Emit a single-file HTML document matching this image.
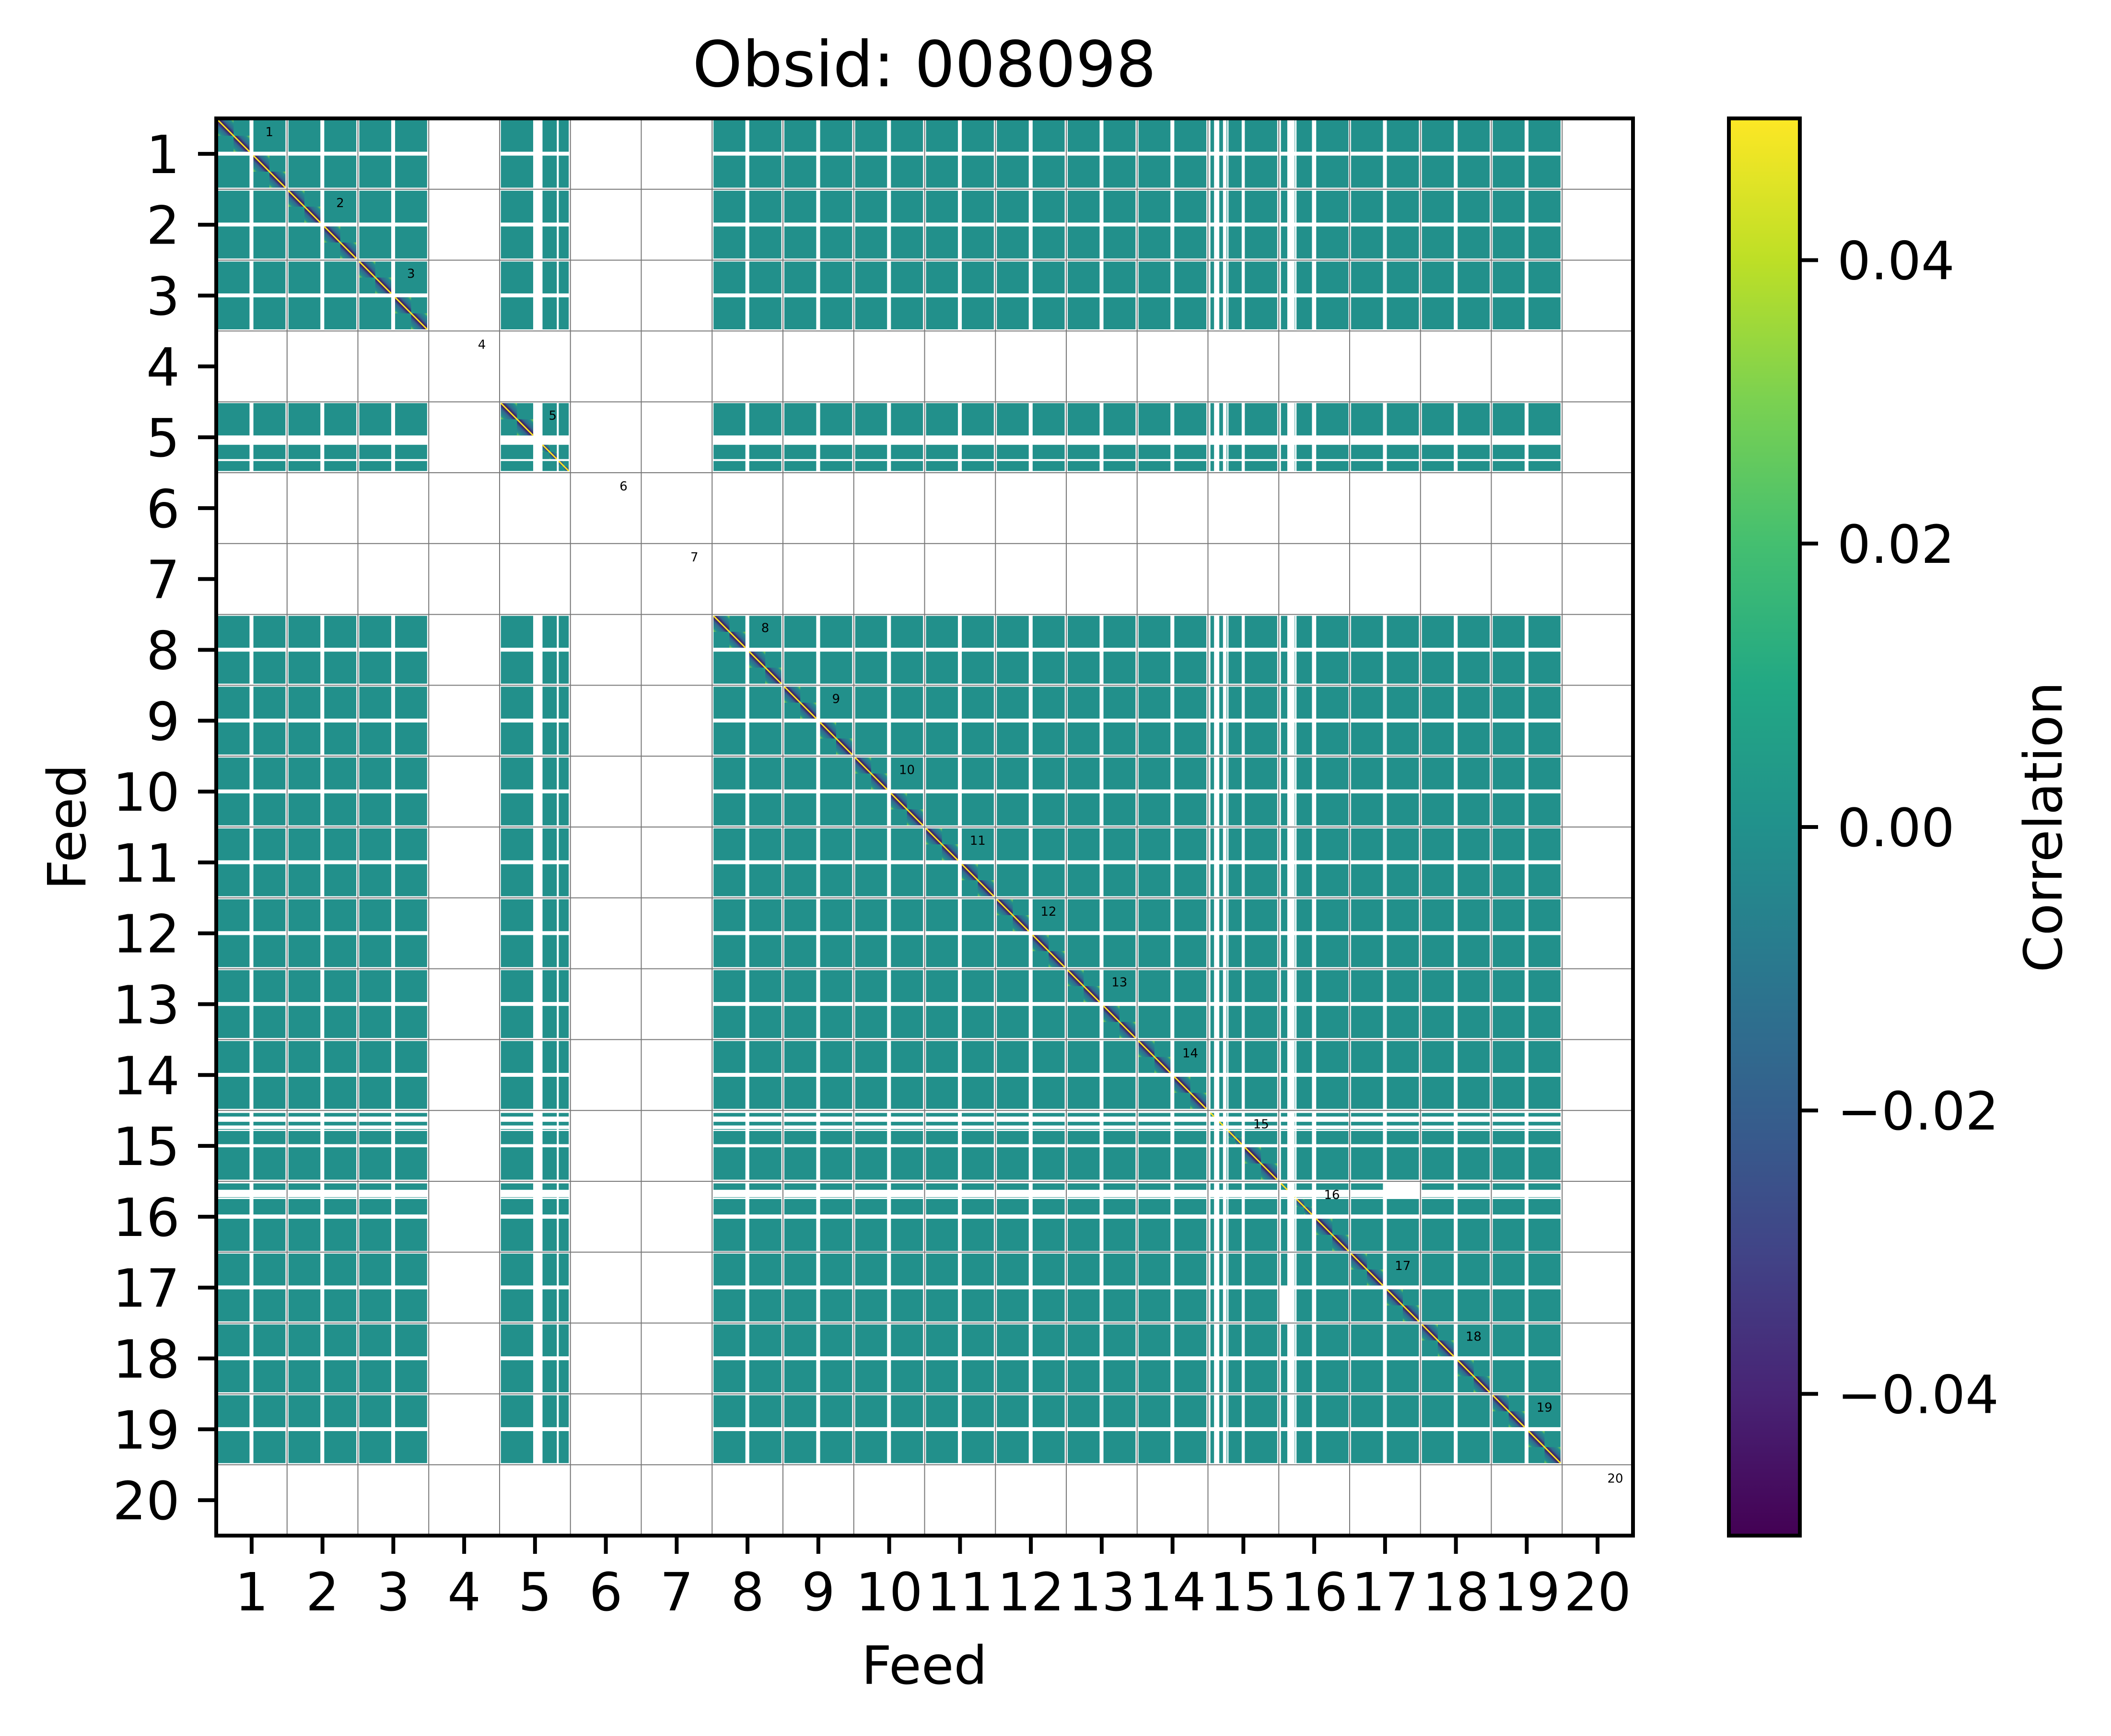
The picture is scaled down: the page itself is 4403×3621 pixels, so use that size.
<!DOCTYPE html>
<html><head><meta charset="utf-8"><style>
html,body{margin:0;padding:0;background:#fff;}
svg{display:block;font-family:"DejaVu Sans","Liberation Sans",sans-serif;}
</style></head><body>
<svg id="chart" width="4403" height="3621" viewBox="0 0 4403 3621" xmlns="http://www.w3.org/2000/svg">
<defs>
<linearGradient id="quadGrad" x1="0" y1="1" x2="1" y2="0">
<stop offset="0" stop-color="#8fd744"/><stop offset="0.12" stop-color="#21918c"/><stop offset="0.33" stop-color="#31688e"/><stop offset="0.5" stop-color="#440154"/><stop offset="0.67" stop-color="#31688e"/><stop offset="0.88" stop-color="#21918c"/><stop offset="1" stop-color="#8fd744"/>
</linearGradient>
<linearGradient id="viridis" x1="0" y1="1" x2="0" y2="0">
<stop offset="0" stop-color="#440154"/><stop offset="0.1" stop-color="#482475"/><stop offset="0.2" stop-color="#414487"/><stop offset="0.3" stop-color="#355f8d"/><stop offset="0.4" stop-color="#2a788e"/><stop offset="0.5" stop-color="#21918c"/><stop offset="0.6" stop-color="#22a884"/><stop offset="0.7" stop-color="#44bf70"/><stop offset="0.8" stop-color="#7ad151"/><stop offset="0.9" stop-color="#bddf26"/><stop offset="1" stop-color="#fde725"/>
</linearGradient>
</defs>
<g id="heat"></g>
<g id="grid"></g>
<g id="axes"></g>
<text x="1928" y="180" font-size="132" text-anchor="middle">Obsid: 008098</text>
<text x="1928" y="3512" font-size="110" text-anchor="middle">Feed</text>
<text transform="translate(178,1725) rotate(-90)" font-size="110" text-anchor="middle">Feed</text>
<rect x="3606" y="247" width="148" height="2956" fill="url(#viridis)" stroke="#000" stroke-width="8"/>
<g id="cbaxis"></g>
<text transform="translate(4300,1725) rotate(-90)" font-size="110" text-anchor="middle">Correlation</text>
</svg>
<script>
const feeds = [1,2,3,4,5,6,7,8,9,10,11,12,13,14,15,16,17,18,19,20];
const missingFeeds = [4,6,7,20];
const defaultSegs = [[0.02,0.47],[0.525,0.977]];
const feed5Segs = [[0.018,0.474],[0.606,0.808],[0.835,0.976]];
const feed15Segs = [[0.035,0.086],[0.16,0.212],[0.262,0.272],[0.29,0.476],[0.52,0.977]];
const feed16Segs = [[0.03,0.12],[0.224,0.23],[0.25,0.468],[0.528,0.983]];
const exclusions = [[16,0,17,1],[16,1,17,1],[17,1,16,0]];
const cbTicks = [-0.04,-0.02,0,0.02,0.04];
const cbTickLabels = ["\u22120.04","\u22120.02","0.00","0.02","0.04"];
const cbMin = -0.05, cbMax = 0.05;

const NS = "http://www.w3.org/2000/svg";
const L = 451, T = 247, W = 2955, H = 2956, N = feeds.length;
const cw = W / N, ch = H / N;
function xs(v){ return L + (v - 0.5) * cw; }
function ys(v){ return T + (v - 0.5) * ch; }
function cbY(v){ return T + H - (v - cbMin) / (cbMax - cbMin) * H; }
function mk(tag, attrs, parent){ const e = document.createElementNS(NS, tag); for (const k in attrs) e.setAttribute(k, attrs[k]); parent.appendChild(e); return e; }
function segsFor(f){ if (missingFeeds.includes(f)) return []; if (f===5) return feed5Segs; if (f===15) return feed15Segs; if (f===16) return feed16Segs; return defaultSegs; }
function excluded(rf, rs, cf, cs){ return exclusions.some(e => e[0]===rf && e[1]===rs && e[2]===cf && e[3]===cs); }

const heat = document.getElementById('heat');
feeds.forEach(rf => {
  segsFor(rf).forEach((rsg, ri) => {
    feeds.forEach(cf => {
      segsFor(cf).forEach((csg, ci) => {
        if (excluded(rf, ri, cf, ci)) return;
        const x0 = xs(cf - 0.5 + csg[0]), x1 = xs(cf - 0.5 + csg[1]);
        const y0 = ys(rf - 0.5 + rsg[0]), y1 = ys(rf - 0.5 + rsg[1]);
        const r = mk('rect', {x: x0, y: y0, width: x1 - x0, height: y1 - y0, fill: '#22908b'}, heat);
        
        
        if (rf === cf && ri === ci) {
          const xm = (x0 + x1) / 2, ym = (y0 + y1) / 2;
          const q1 = mk('rect', {x: x0, y: y0, width: xm - x0, height: ym - y0, fill: 'url(#quadGrad)'}, heat);
          
          
          const q2 = mk('rect', {x: xm, y: ym, width: x1 - xm, height: y1 - ym, fill: 'url(#quadGrad)'}, heat);
          
          
          const d = mk('line', {x1: x0, y1: y0, x2: x1, y2: y1, stroke: '#fde725', 'stroke-width': 3}, heat);
          
          
        }
      });
    });
  });
});

const grid = document.getElementById('grid');
for (let i = 1; i < N; i++) {
  const gv = mk('line', {x1: xs(i + 0.5), y1: T, x2: xs(i + 0.5), y2: T + H, stroke: '#777', 'stroke-width': 2}, grid);
  
  
  const gh = mk('line', {x1: L, y1: ys(i + 0.5), x2: L + W, y2: ys(i + 0.5), stroke: '#777', 'stroke-width': 2}, grid);
  
  
}
feeds.forEach(f => {
  const t = mk('text', {x: xs(f - 0.5 + 0.75), y: ys(f - 0.5 + 0.19) + 9, 'font-size': 26, 'text-anchor': 'middle'}, grid);
  t.textContent = String(f);
  
  
});

const axes = document.getElementById('axes');
const frame = mk('rect', {x: L, y: T, width: W, height: H, fill: 'none', stroke: '#000', 'stroke-width': 8}, axes);


feeds.forEach(f => {
  const tx = mk('line', {x1: xs(f), y1: T + H, x2: xs(f), y2: T + H + 38, stroke: '#000', 'stroke-width': 8}, axes);
  
  
  const lx = mk('text', {x: xs(f), y: T + H + 38 + 38 + 80, 'font-size': 110, 'text-anchor': 'middle'}, axes);
  lx.textContent = String(f);
  
  
  const ty = mk('line', {x1: L - 38, y1: ys(f), x2: L, y2: ys(f), stroke: '#000', 'stroke-width': 8}, axes);
  
  
  const ly = mk('text', {x: L - 38 - 38, y: ys(f) + 40, 'font-size': 110, 'text-anchor': 'end'}, axes);
  ly.textContent = String(f);
  
  
});

const cb = document.getElementById('cbaxis');
cbTicks.forEach((v, i) => {
  const t = mk('line', {x1: 3754, y1: cbY(v), x2: 3792, y2: cbY(v), stroke: '#000', 'stroke-width': 8}, cb);
  
  
  const l = mk('text', {x: 3832, y: cbY(v) + 40, 'font-size': 110}, cb);
  l.textContent = cbTickLabels[i];
  
  
});
</script>
</body></html>
